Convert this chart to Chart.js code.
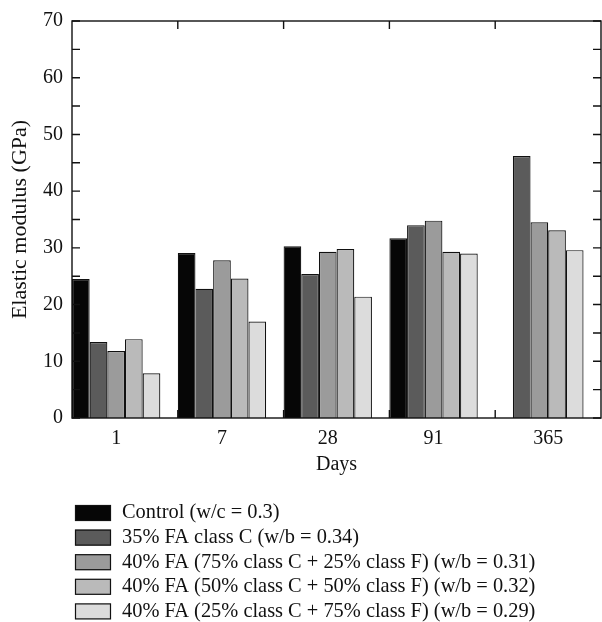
<!DOCTYPE html>
<html lang="en">
<head>
<meta charset="UTF-8" />
<title>Elastic modulus</title>
<script src="https://cdn.jsdelivr.net/npm/chart.js"></script>
<style>
    body {
        margin: 0;
        background: #fff;
    }
    .chart-container {
        position: relative;
        width: 602px;
        height: 622px;
    }
</style>
</head>
<body>
<div class="chart-container"><canvas id="modulusChart"></canvas></div>
<script>
    // Ages at test, in days
    const days = ["1", "7", "28", "91", "365"];

    const seriesNames = [
        "Control (w/c = 0.3)",
        "35% FA class C (w/b = 0.34)",
        "40% FA (75% class C + 25% class F) (w/b = 0.31)",
        "40% FA (50% class C + 50% class F) (w/b = 0.32)",
        "40% FA (25% class C + 75% class F) (w/b = 0.29)",
    ];

    // Elastic modulus, GPa
    const control = [24.5, 29.1, 30.3, 31.7, null];
    const fa35C = [13.4, 22.8, 25.4, 34.0, 46.2];
    const fa40C75 = [11.8, 27.8, 29.3, 34.8, 34.5];
    const fa40C50 = [13.9, 24.6, 29.8, 29.3, 33.1];
    const fa40C25 = [7.9, 17.0, 21.4, 29.0, 29.6];

    const seriesValues = [control, fa35C, fa40C75, fa40C50, fa40C25];
    const fills = ["#060606", "#5b5b5b", "#9b9b9b", "#bababa", "#dcdcdc"];

    const serif = '"Liberation Serif", "Times New Roman", serif';
    const ink = "#111";

    // bars sit at the left of each day slot and take this share of it
    const groupShare = 0.835;
    const groupMid = groupShare / 2;

    // label sits under the bars that actually have a value
    function labelPos(i) {
        const present = seriesValues.map((s, k) => (s[i] == null ? -1 : k)).filter((k) => k >= 0);
        const slot = groupShare / seriesValues.length;
        return i + (slot * (present[0] + present[present.length - 1] + 1)) / 2;
    }

    const framePlugin = {
        id: "frame",
        afterDatasetsDraw(chart) {
            const { ctx, chartArea: a, scales } = chart;
            const x = scales.x;
            const y = scales.y;
            const tick = 8;
            ctx.save();
            ctx.strokeStyle = ink;
            ctx.lineWidth = 1.4;
            ctx.strokeRect(a.left, a.top, a.right - a.left, a.bottom - a.top);
            ctx.beginPath();
            for (let v = 0; v <= 70; v += 5) {
                const py = y.getPixelForValue(v);
                ctx.moveTo(a.left, py);
                ctx.lineTo(a.left + tick, py);
                ctx.moveTo(a.right, py);
                ctx.lineTo(a.right - tick, py);
            }
            for (let i = 1; i < days.length; i++) {
                const px = x.getPixelForValue(i);
                ctx.moveTo(px, a.top);
                ctx.lineTo(px, a.top + tick);
                ctx.moveTo(px, a.bottom);
                ctx.lineTo(px, a.bottom - tick);
            }
            ctx.stroke();
            ctx.restore();
        },
    };

    // stacked legend under the axis title
    const legendPlugin = {
        id: "stackedLegend",
        afterDraw(chart) {
            const { ctx } = chart;
            const top = 505;
            const rowGap = 24.6;
            ctx.save();
            ctx.font = "20.4px " + serif;
            ctx.textBaseline = "middle";
            chart.data.datasets.forEach((ds, i) => {
                const y = top + i * rowGap;
                ctx.fillStyle = ds.backgroundColor;
                ctx.fillRect(75, y, 36, 16);
                ctx.strokeStyle = ink;
                ctx.lineWidth = 1.2;
                ctx.strokeRect(75.5, y + 0.5, 35, 15);
                ctx.fillStyle = ink;
                ctx.fillText(ds.label, 122, y + 8);
            });
            ctx.restore();
        },
    };

    new Chart(document.getElementById("modulusChart"), {
        type: "bar",
        data: {
            datasets: seriesValues.map((values, k) => ({
                label: seriesNames[k],
                data: values.map((v, i) => ({ x: i + groupMid, y: v })),
                backgroundColor: fills[k],
                borderColor: ink,
                borderWidth: 1.2,
                categoryPercentage: groupShare,
                barPercentage: 1,
            })),
        },
        options: {
            responsive: true,
            maintainAspectRatio: false,
            animation: false,
            layout: { padding: { top: 21, right: 1, left: 0, bottom: 144 } },
            plugins: {
                legend: { display: false },
                tooltip: { enabled: false },
            },
            scales: {
                x: {
                    type: "linear",
                    offset: false,
                    min: 0,
                    max: days.length,
                    grid: { display: false, drawTicks: false },
                    border: { display: false },
                    afterBuildTicks: (scale) => {
                        scale.ticks = days.map((d, i) => ({ value: labelPos(i) }));
                    },
                    ticks: {
                        callback: (value, index) => days[index],
                        autoSkip: false,
                        maxRotation: 0,
                        padding: 9,
                        color: ink,
                        font: { family: serif, size: 20 },
                    },
                    title: {
                        display: true,
                        text: "Days",
                        color: ink,
                        font: { family: serif, size: 20 },
                        padding: { top: 0, bottom: 1 },
                    },
                    afterFit: (scale) => {
                        scale.height = 60;
                    },
                },
                y: {
                    min: 0,
                    max: 70,
                    grid: { display: false, drawTicks: false },
                    border: { display: false },
                    ticks: {
                        stepSize: 10,
                        padding: 9,
                        color: ink,
                        font: { family: serif, size: 20 },
                    },
                    title: {
                        display: true,
                        text: "Elastic modulus (GPa)",
                        color: ink,
                        font: { family: serif, size: 22 },
                        padding: { top: 7, bottom: 0 },
                    },
                    afterFit: (scale) => {
                        scale.width = 72;
                    },
                },
            },
        },
        plugins: [framePlugin, legendPlugin],
    });
</script>
</body>
</html>
